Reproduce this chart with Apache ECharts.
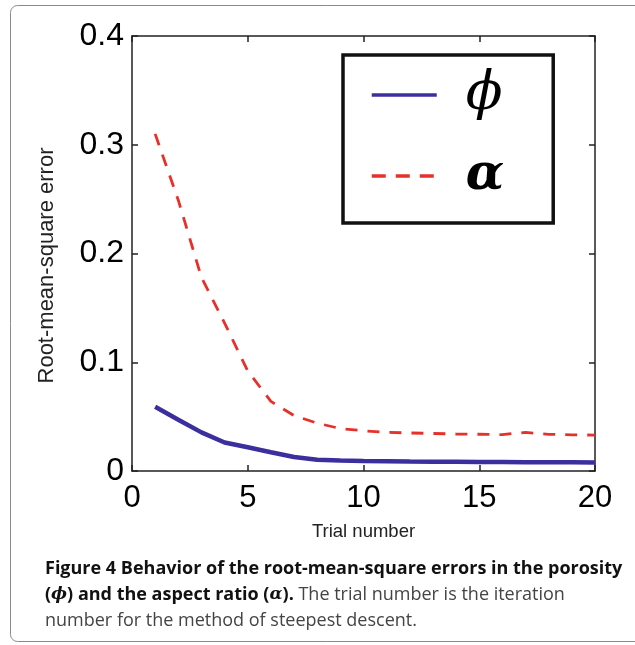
<!DOCTYPE html>
<html>
<head>
<meta charset="utf-8">
<script src="https://cdn.jsdelivr.net/npm/echarts@6/dist/echarts.min.js"></script>
<style>
html,body{margin:0;padding:0;background:#fff;}
#chart{width:635px;height:645px;}
</style>
</head>
<body>
<div id="chart"></div>
<script>
// ---- data ----
var trials = [1,2,3,4,5,6,7,8,9,10,11,12,13,14,15,16,17,18,19,20];
var phiRmse = [0.059,0.0472,0.0355,0.0262,0.0218,0.0173,0.0129,0.0104,0.0097,0.0093,0.0090,0.0087,0.0085,0.0084,0.0083,0.0082,0.0081,0.0080,0.0080,0.0079];
var alphaRmse = [0.310,0.249,0.178,0.136,0.092,0.064,0.051,0.044,0.039,0.037,0.0355,0.035,0.0345,0.034,0.0338,0.0335,0.0355,0.0337,0.0333,0.033];
var xTicks = [0,5,10,15,20];
var yTicks = [0,0.1,0.2,0.3,0.4];
var seriesNames = ['\u03D5','\u03B1'];
var xTitle = 'Trial number';
var yTitle = 'Root-mean-square error';
var captionLine1 = 'Figure 4 Behavior of the root-mean-square errors in the porosity';
var captionLine3 = 'number for the method of steepest descent.';

function pairs(xs, ys){ return xs.map(function(x,i){ return [x, ys[i]]; }); }

var chart = echarts.init(document.getElementById('chart'), null, {renderer:'canvas'});
var tickFont = '"Liberation Sans", Arial, sans-serif';
var capFont = '"Open Sans", "Noto Sans", sans-serif';
var axisCommon = {
  type:'value',
  axisLine:{show:true, onZero:false, lineStyle:{color:'#222', width:1.5}},
  axisTick:{show:true, inside:true, length:6, lineStyle:{color:'#222', width:1.5}},
  splitLine:{show:false}
};
var blue = '#3b2f9e', red = '#e8302a';
var option = {
  backgroundColor:'#fff',
  animation:false,
  grid:{left:132, right:40, top:36, bottom:174, containLabel:false},
  xAxis:[
    Object.assign({}, axisCommon, {
      position:'bottom', min:xTicks[0], max:xTicks[xTicks.length-1], interval:5,
      axisLabel:{fontFamily:tickFont, fontSize:31, color:'#000', margin:12},
      name:xTitle, nameLocation:'middle', nameGap:51,
      nameTextStyle:{fontFamily:tickFont, fontSize:18.5, color:'#222'}
    }),
    Object.assign({}, axisCommon, {
      position:'top', min:xTicks[0], max:xTicks[xTicks.length-1], interval:5,
      axisLabel:{show:false}
    })
  ],
  yAxis:[
    Object.assign({}, axisCommon, {
      position:'left', min:yTicks[0], max:yTicks[yTicks.length-1], interval:0.1,
      axisLabel:{fontFamily:tickFont, fontSize:32, color:'#000', margin:8},
      name:yTitle, nameLocation:'middle', nameGap:74,
      nameTextStyle:{fontFamily:tickFont, fontSize:22, color:'#222', padding:[0,24,0,0]}
    }),
    Object.assign({}, axisCommon, {
      position:'right', min:yTicks[0], max:yTicks[yTicks.length-1], interval:0.1,
      axisLabel:{show:false}
    })
  ],
  legend:{
    orient:'vertical', left:343, top:55,
    data:[
      {name:seriesNames[0], itemStyle:{opacity:0}, lineStyle:{color:blue, width:3.5, type:'solid'}},
      {name:seriesNames[1], itemStyle:{opacity:0}, lineStyle:{color:red, width:3.5, type:[14,10]}}
    ],
    itemWidth:65, itemHeight:50, itemGap:29,
    padding:[13,49,22,27],
    borderColor:'#111', borderWidth:3.5,
    backgroundColor:'#fff',
    formatter:function(n){ return n===seriesNames[0] ? '{p|'+n+'}' : '{a|'+n+'}'; },
    textStyle:{
      padding:[0,0,0,24],
      rich:{
        p:{fontFamily:'"DejaVu Serif", "Liberation Serif", serif', fontStyle:'italic', fontSize:54, color:'#000', lineHeight:50},
        a:{fontFamily:'"DejaVu Serif", "Liberation Serif", serif', fontStyle:'italic', fontWeight:'bold', fontSize:50, color:'#000', lineHeight:50}
      }
    }
  },
  series:[
    {
      name:seriesNames[0], type:'line', xAxisIndex:0, yAxisIndex:0,
      data:pairs(trials, phiRmse), symbol:'none', smooth:false,
      lineStyle:{color:blue, width:4.5}, itemStyle:{color:blue}
    },
    {
      name:seriesNames[1], type:'line', xAxisIndex:0, yAxisIndex:0,
      data:pairs(trials, alphaRmse), symbol:'none', smooth:false,
      lineStyle:{color:red, width:2.8, type:[12,10]}, itemStyle:{color:red}
    }
  ],
  graphic:[
    {type:'rect', z:-10, silent:true, shape:{x:10.5, y:5.5, width:660, height:636, r:7},
     style:{fill:null, stroke:'#8a8a8a', lineWidth:1}},
    {type:'text', left:45, top:560, style:{text:captionLine1, font:'bold 18px '+capFont, fill:'#111'}},
    {type:'text', left:45, top:586, style:{
      text:'{b|(}{bi|\u03D5}{b|) and the aspect ratio (}{bi|\u03B1}{b|).}{n| The trial number is the iteration}',
      rich:{
        b:{font:'bold 18px '+capFont, fill:'#111'},
        bi:{font:'italic bold 17px "DejaVu Serif", serif', fill:'#111'},
        n:{font:'18px '+capFont, fill:'#444'}
      }}},
    {type:'text', left:45, top:612, style:{text:captionLine3, font:'18px '+capFont, fill:'#444'}}
  ]
};
chart.setOption(option);
</script>
</body>
</html>
